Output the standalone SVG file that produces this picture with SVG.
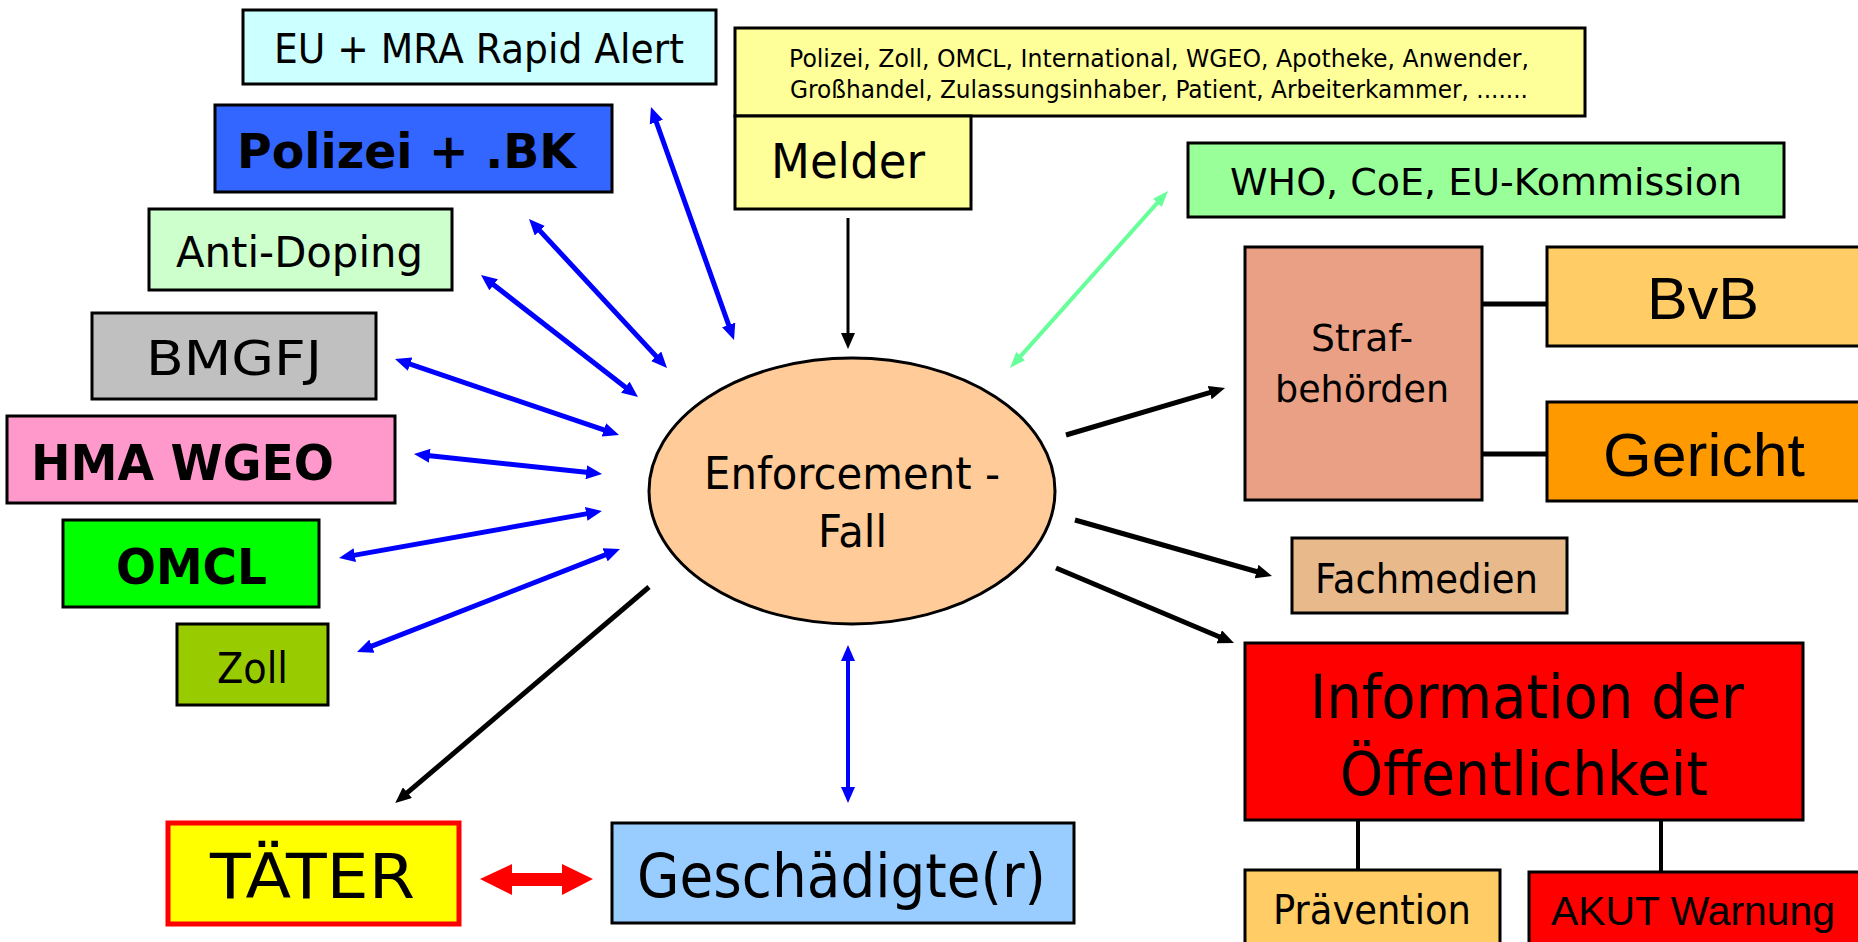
<svg xmlns="http://www.w3.org/2000/svg" width="1858" height="942" viewBox="0 0 1858 942">
<style>
.box{stroke:#000;stroke-width:3}
.t{font-family:"DejaVu Sans","Noto Sans",sans-serif;fill:#000}
.a{font-family:"Liberation Sans",Arial,sans-serif;fill:#000}
.b{font-weight:bold}
.blue{stroke:#0000FF;stroke-width:5;fill:none}
.blk{stroke:#000;stroke-width:5;fill:none}
.grn{stroke:#66FF99;stroke-width:4;fill:none}
.ln{stroke:#000;stroke-width:5;fill:none}
</style>
<defs>
<marker id="ab" markerUnits="userSpaceOnUse" markerWidth="16" markerHeight="14" refX="7" refY="7" orient="auto-start-reverse"><path d="M0,0 L16,7 L0,14 z" fill="#0000FF"/></marker>
<marker id="ak" markerUnits="userSpaceOnUse" markerWidth="16" markerHeight="14" refX="7" refY="7" orient="auto-start-reverse"><path d="M0,0 L16,7 L0,14 z" fill="#000"/></marker>
<marker id="ag" markerUnits="userSpaceOnUse" markerWidth="16" markerHeight="12" refX="7" refY="6" orient="auto-start-reverse"><path d="M0,0 L16,6 L0,12 z" fill="#66FF99"/></marker>
</defs>
<rect width="1858" height="942" fill="#fff"/>

<g id="connectors">
<line class="blue" x1="654" y1="115.5" x2="731" y2="331.5" marker-start="url(#ab)" marker-end="url(#ab)"/>
<line class="blue" x1="535.1" y1="225.6" x2="660.9" y2="361.4" marker-start="url(#ab)" marker-end="url(#ab)"/>
<line class="blue" x1="488.1" y1="280.5" x2="630.9" y2="391.5" marker-start="url(#ab)" marker-end="url(#ab)"/>
<line class="blue" x1="403.5" y1="361.9" x2="610.5" y2="432.1" marker-start="url(#ab)" marker-end="url(#ab)"/>
<line class="blue" x1="422.9" y1="455" x2="593.1" y2="473" marker-start="url(#ab)" marker-end="url(#ab)"/>
<line class="blue" x1="347.9" y1="556.4" x2="593.1" y2="512.6" marker-start="url(#ab)" marker-end="url(#ab)"/>
<line class="blue" x1="365.4" y1="648.7" x2="611.6" y2="552.3" marker-start="url(#ab)" marker-end="url(#ab)"/>
<line class="blue" style="stroke-width:4" x1="848" y1="654" x2="848" y2="794" marker-start="url(#ab)" marker-end="url(#ab)"/>
<line class="grn" x1="1162" y1="197.7" x2="1016" y2="361.3" marker-start="url(#ag)" marker-end="url(#ag)"/>
<line class="blk" style="stroke-width:3" x1="848" y1="218" x2="848" y2="340" marker-end="url(#ak)"/>
<line class="blk" x1="649" y1="587" x2="402.1" y2="797.2" marker-end="url(#ak)"/>
<line class="blk" x1="1066" y1="435" x2="1216.4" y2="390.6" marker-end="url(#ak)"/>
<line class="blk" x1="1075" y1="520" x2="1263.3" y2="573.5" marker-end="url(#ak)"/>
<line class="blk" x1="1056" y1="568" x2="1225.7" y2="639.5" marker-end="url(#ak)"/>
<polygon points="480,879 512,864 512,873 562,873 562,864 593,879 562,895 562,886 512,886 512,895" fill="#FF0000"/>
<line class="ln" x1="1482" y1="304" x2="1547" y2="304"/>
<line class="ln" x1="1482" y1="454" x2="1547" y2="454"/>
<line class="ln" style="stroke-width:4" x1="1358" y1="820" x2="1358" y2="870"/>
<line class="ln" style="stroke-width:4" x1="1661" y1="820" x2="1661" y2="872"/>
</g>

<g id="eu"><rect class="box" x="243" y="10" width="473" height="74" fill="#CCFFFF"/>
<text class="t" x="274" y="63" font-size="40" textLength="410" lengthAdjust="spacingAndGlyphs">EU + MRA Rapid Alert</text></g>

<g id="polizei"><rect class="box" x="215" y="105" width="397" height="87" fill="#3366FF"/>
<text class="t b" x="237" y="168" font-size="48" textLength="339" lengthAdjust="spacingAndGlyphs">Polizei + .BK</text></g>

<g id="antidoping"><rect class="box" x="149" y="209" width="303" height="81" fill="#CCFFCC"/>
<text class="t" x="176" y="267" font-size="42" textLength="247" lengthAdjust="spacingAndGlyphs">Anti-Doping</text></g>

<g id="bmgfj"><rect class="box" x="92" y="313" width="284" height="86" fill="#C0C0C0"/>
<text class="t" x="146" y="375" font-size="48" textLength="176" lengthAdjust="spacingAndGlyphs">BMGFJ</text></g>

<g id="hma"><rect class="box" x="7" y="416" width="388" height="87" fill="#FF99CC"/>
<text class="t b" x="31" y="480" font-size="49" textLength="303" lengthAdjust="spacingAndGlyphs">HMA WGEO</text></g>

<g id="omcl"><rect class="box" x="63" y="520" width="256" height="87" fill="#00FF00"/>
<text class="t b" x="116" y="584" font-size="49" textLength="151" lengthAdjust="spacingAndGlyphs">OMCL</text></g>

<g id="zoll"><rect class="box" x="177" y="624" width="151" height="81" fill="#99CC00"/>
<text class="t" x="217" y="683" font-size="43" textLength="71" lengthAdjust="spacingAndGlyphs">Zoll</text></g>

<g id="taeter"><rect x="168" y="823" width="291" height="101" fill="#FFFF00" stroke="#FF0000" stroke-width="5"/>
<text class="t" x="210" y="898" font-size="63" textLength="205" lengthAdjust="spacingAndGlyphs">TÄTER</text></g>

<g id="geschaedigte"><rect class="box" x="612" y="823" width="462" height="100" fill="#99CCFF"/>
<text class="t" x="637" y="897" font-size="60" textLength="409" lengthAdjust="spacingAndGlyphs">Geschädigte(r)</text></g>

<g id="fall"><ellipse cx="852" cy="491" rx="203" ry="133" fill="#FFCC99" stroke="#000" stroke-width="3"/>
<text class="t" x="704" y="489" font-size="44" textLength="296" lengthAdjust="spacingAndGlyphs">Enforcement -</text>
<text class="t" x="818" y="547" font-size="44" textLength="69" lengthAdjust="spacingAndGlyphs">Fall</text></g>

<g id="melderliste"><rect class="box" x="735" y="28" width="850" height="88" fill="#FFFF99"/>
<text class="t" x="789" y="67" font-size="24" textLength="740" lengthAdjust="spacingAndGlyphs">Polizei, Zoll, OMCL, International, WGEO, Apotheke, Anwender,</text>
<text class="t" x="790" y="98" font-size="24" textLength="738" lengthAdjust="spacingAndGlyphs">Großhandel, Zulassungsinhaber, Patient, Arbeiterkammer, .......</text></g>

<g id="melder"><rect class="box" x="735" y="116" width="236" height="93" fill="#FFFF99"/>
<text class="t" x="771" y="178" font-size="48" textLength="154" lengthAdjust="spacingAndGlyphs">Melder</text></g>

<g id="who"><rect class="box" x="1188" y="143" width="596" height="74" fill="#99FF99"/>
<text class="t" x="1230" y="195" font-size="38" textLength="512" lengthAdjust="spacingAndGlyphs">WHO, CoE, EU-Kommission</text></g>

<g id="straf"><rect class="box" x="1245" y="247" width="237" height="253" fill="#EAA085"/>
<text class="t" x="1311" y="351" font-size="38" textLength="102" lengthAdjust="spacingAndGlyphs">Straf-</text>
<text class="t" x="1275" y="402" font-size="38" textLength="174" lengthAdjust="spacingAndGlyphs">behörden</text></g>

<g id="bvb"><rect class="box" x="1547" y="247" width="330" height="99" fill="#FFCC66"/>
<text class="a" x="1647" y="319" font-size="60" textLength="112" lengthAdjust="spacingAndGlyphs">BvB</text></g>

<g id="gericht"><rect class="box" x="1547" y="402" width="330" height="99" fill="#FF9900"/>
<text class="a" x="1603" y="476" font-size="62" textLength="202" lengthAdjust="spacingAndGlyphs">Gericht</text></g>

<g id="fachmedien"><rect class="box" x="1292" y="538" width="275" height="75" fill="#E8B98B"/>
<text class="t" x="1315" y="593" font-size="40" textLength="223" lengthAdjust="spacingAndGlyphs">Fachmedien</text></g>

<g id="information"><rect class="box" x="1245" y="643" width="558" height="177" fill="#FF0000"/>
<text class="t" x="1310" y="718" font-size="60" textLength="434" lengthAdjust="spacingAndGlyphs">Information der</text>
<text class="t" x="1340" y="795" font-size="60" textLength="368" lengthAdjust="spacingAndGlyphs">Öffentlichkeit</text></g>

<g id="praevention"><rect class="box" x="1245" y="870" width="255" height="90" fill="#FFCC66"/>
<text class="t" x="1273" y="924" font-size="41" textLength="198" lengthAdjust="spacingAndGlyphs">Prävention</text></g>

<g id="akut"><rect class="box" x="1529" y="872" width="340" height="90" fill="#FF0000"/>
<text class="a" x="1551" y="925" font-size="40" textLength="284" lengthAdjust="spacingAndGlyphs">AKUT Warnung</text></g>
</svg>
